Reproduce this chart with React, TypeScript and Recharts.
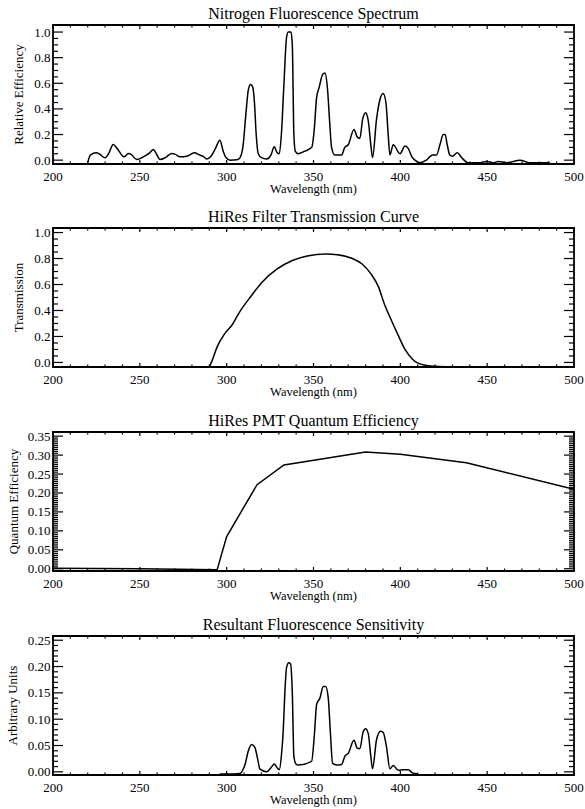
import { Line, LineChart, ReferenceArea, XAxis, YAxis } from 'recharts'

// wavelength (nm), relative efficiency
const fluorescence: [number, number][] = [
  [220, -0.02], [221.5, 0.04], [225, 0.057], [227, 0.045], [230, 0.018],
  [232, 0.05], [234.7, 0.122], [237, 0.09], [240.9, 0.026], [243.4, 0.052],
  [245, 0.045], [248.2, 0.005], [253, 0.034], [255.5, 0.055], [257.8, 0.083],
  [259.5, 0.05], [261.6, 0.005], [264.5, 0.018], [268.3, 0.052], [270.5, 0.045],
  [273.1, 0.026], [277, 0.031], [281.4, 0.057], [284.5, 0.04], [286.5, 0.03],
  [288.5, 0.01], [291, 0.03], [293.5, 0.09], [296.1, 0.156], [298, 0.07],
  [299.6, 0.02], [302, 0.0], [306, 0.003], [307.7, 0.02], [309.5, 0.12],
  [311, 0.35], [312.5, 0.55], [313.8, 0.59], [315, 0.57], [316, 0.45],
  [317, 0.2], [318.2, 0.05], [320, 0.02], [323, 0.01], [325.5, 0.04],
  [327.4, 0.105], [329, 0.06], [330.3, 0.05], [331.5, 0.2], [333, 0.6],
  [334.5, 0.96], [335.5, 1.0], [337, 1.0], [337.8, 0.9], [338.7, 0.2],
  [339.5, 0.07], [341, 0.05], [345, 0.07], [349, 0.1], [350.5, 0.25],
  [351.8, 0.49], [353.3, 0.57], [355.3, 0.67], [356.6, 0.68], [358.1, 0.55],
  [359.3, 0.3], [360.4, 0.1], [362.3, 0.04], [366.2, 0.04], [368, 0.1],
  [370, 0.12], [373.3, 0.24], [375.2, 0.18], [376.7, 0.17], [378.3, 0.32],
  [380, 0.37], [381.5, 0.31], [383, 0.12], [384, 0.02], [386.3, 0.32],
  [388.2, 0.47], [390.1, 0.52], [391.7, 0.45], [393, 0.2], [394, 0.04],
  [395.9, 0.12], [399.8, 0.05], [402.7, 0.11], [404.6, 0.09], [406.5, 0.03],
  [408.4, 0.0], [411.3, -0.02], [415, 0.0], [418.5, 0.04], [420.8, 0.04],
  [423, 0.13], [424.7, 0.2], [425.8, 0.2], [427, 0.12], [428.5, 0.04],
  [430, 0.03], [432.8, 0.057], [435.3, 0.02], [439.1, -0.02], [445.8, -0.02],
  [449.7, -0.01], [453.5, -0.02], [456.4, -0.01], [461.2, -0.02], [468.9, 0.0],
  [474.6, -0.02], [484.2, -0.02], [486, -0.015],
]

// wavelength (nm), filter transmission
const transmission: [number, number][] = [
  [290, -0.035], [291.5, 0.01], [294.5, 0.12], [298.8, 0.22], [303.2, 0.29],
  [307.5, 0.39], [314, 0.51], [320.5, 0.62], [329.1, 0.72], [337.8, 0.785],
  [346.4, 0.82], [357.2, 0.835], [363.7, 0.83], [372.4, 0.8], [377.8, 0.76],
  [383.2, 0.68], [387.5, 0.58], [390.8, 0.45], [394, 0.35], [398.4, 0.22],
  [402.7, 0.1], [407, 0.025], [413.5, -0.02], [422, -0.032], [433, -0.035],
]

// wavelength (nm), PMT quantum efficiency
const quantumEff: [number, number][] = [
  [200, 0.001], [250, 0.0], [294.5, -0.003], [300, 0.085], [317.5, 0.222],
  [333, 0.274], [380, 0.308], [400, 0.302], [438, 0.28], [500, 0.21],
]

// wavelength (nm), resulting sensitivity
const sensitivity: [number, number][] = [
  [296, -0.004], [300, -0.004], [307.7, -0.003], [309.5, 0.005], [310.6, 0.014],
  [312.5, 0.04], [314.4, 0.052], [316.3, 0.046], [317.8, 0.025], [319.2, 0.005],
  [323, 0.0], [325.5, 0.008], [327.4, 0.015], [329, 0.008], [330.3, 0.004],
  [331.5, 0.03], [332.6, 0.08], [333.5, 0.15], [334.5, 0.198], [335.8, 0.207],
  [336.8, 0.205], [337.8, 0.15], [338.7, 0.03], [339.9, 0.015], [341.2, 0.013],
  [348.9, 0.02], [350.5, 0.07], [351.8, 0.128], [353.7, 0.14], [355.6, 0.162],
  [357, 0.162], [358.5, 0.14], [359.8, 0.07], [361, 0.016], [363.3, 0.013],
  [366.2, 0.014], [368.1, 0.03], [370, 0.035], [373.3, 0.06], [375.2, 0.045],
  [376.7, 0.044], [378.6, 0.076], [380, 0.082], [381.5, 0.073], [383, 0.03],
  [384, 0.006], [386.3, 0.061], [388.6, 0.077], [390.1, 0.075], [392, 0.048],
  [394, 0.006], [395.9, 0.012], [398.8, 0.003], [401.6, 0.004], [404.6, 0.004],
  [407, -0.002], [410, -0.004],
]

const xMajor = [200, 250, 300, 350, 400, 450, 500]
const yMajorFrac = [0, 0.2, 0.4, 0.6, 0.8, 1.0]
const yMajorQE = [0, 0.05, 0.1, 0.15, 0.2, 0.25, 0.3, 0.35]
const yMajorSens = [0, 0.05, 0.1, 0.15, 0.2, 0.25]

const W = 585
const H = 200
const M = { top: 25, right: 11, left: 0, bottom: 0 }
const Y_W = 53
const X_H = 36
const PLOT_W = W - M.left - M.right - Y_W
const PLOT_H = H - M.top - M.bottom - X_H
const FONT = '"Liberation Serif", "Times New Roman", serif'
const txt = { fontFamily: FONT, fill: '#000' }

function steps(a: number, b: number, step: number) {
  const n = Math.round((b - a) / step)
  return Array.from({ length: n + 1 }, (_, i) => +(a + i * step).toFixed(4))
}

const isIn = (list: number[], v: number) => list.some((m) => Math.abs(m - v) < 1e-6)

function XTick(props: any) {
  const { x, y, payload } = props
  const v = payload.value
  const major = isIn(xMajor, v)
  const len = major ? 4 : 2.5
  return (
    <g>
      <line x1={x} x2={x} y1={y} y2={y - len} stroke="#000" strokeWidth={1.2} />
      <line x1={x} x2={x} y1={y - PLOT_H} y2={y - PLOT_H + len} stroke="#000" strokeWidth={1.2} />
      {major && (
        <text x={x} y={y + 12} textAnchor="middle" dominantBaseline="central" style={{ ...txt, fontSize: 13 }}>
          {v}
        </text>
      )}
    </g>
  )
}

function makeYTick(majors: number[], decimals: number) {
  return (props: any) => {
    const { x, y, payload } = props
    const v = payload.value
    const major = isIn(majors, v)
    const len = major ? 10 : 5
    return (
      <g>
        <line x1={x} x2={x + len} y1={y} y2={y} stroke="#000" strokeWidth={1.2} />
        <line x1={x + PLOT_W} x2={x + PLOT_W - len} y1={y} y2={y} stroke="#000" strokeWidth={1.2} />
        {major && (
          <text x={x - 2.5} y={y} textAnchor="end" dominantBaseline="central" style={{ ...txt, fontSize: 13 }}>
            {v.toFixed(decimals)}
          </text>
        )}
      </g>
    )
  }
}

type PanelProps = {
  top: number
  points: [number, number][]
  title: string
  yLabel: string
  yLabelX: number
  yDomain: [number, number]
  yMajor: number[]
  yMinorStep: number
  decimals: number
  curve: 'monotone' | 'linear'
}

function Panel({ top, points, title, yLabel, yLabelX, yDomain, yMajor, yMinorStep, decimals, curve }: PanelProps) {
  const data = points.map(([nm, v]) => ({ nm, v }))
  const yTicks = steps(0, yMajor[yMajor.length - 1], yMinorStep)
  const cx = M.left + Y_W + PLOT_W / 2
  const cy = M.top + PLOT_H / 2
  return (
    <div style={{ position: 'absolute', top, left: 0 }}>
      <LineChart width={W} height={H} data={data} margin={M}>
        <XAxis
          dataKey="nm"
          type="number"
          domain={[200, 500]}
          ticks={steps(200, 500, 10)}
          interval={0}
          height={X_H}
          axisLine={false}
          tickLine={false}
          tickSize={0}
          tickMargin={0}
          tick={XTick}
          allowDataOverflow
        />
        <YAxis
          type="number"
          domain={yDomain}
          ticks={yTicks}
          interval={0}
          width={Y_W}
          axisLine={false}
          tickLine={false}
          tickSize={0}
          tickMargin={0}
          tick={makeYTick(yMajor, decimals)}
          allowDataOverflow
        />
        <Line
          type={curve}
          dataKey="v"
          stroke="#000"
          strokeWidth={1.5}
          dot={false}
          activeDot={false}
          isAnimationActive={false}
        />
        <ReferenceArea
          x1={200}
          x2={500}
          y1={yDomain[0]}
          y2={yDomain[1]}
          fill="none"
          fillOpacity={0}
          stroke="#000"
          strokeWidth={1.8}
        />
        <text x={cx} y={13.5} textAnchor="middle" dominantBaseline="central" style={{ ...txt, fontSize: 16 }}>
          {title}
        </text>
        <text x={cx} y={M.top + PLOT_H + 25} textAnchor="middle" dominantBaseline="central" style={{ ...txt, fontSize: 12.5 }}>
          Wavelength (nm)
        </text>
        <text
          x={yLabelX}
          y={cy}
          transform={`rotate(-90 ${yLabelX} ${cy})`}
          textAnchor="middle"
          dominantBaseline="central"
          style={{ ...txt, fontSize: 13 }}
        >
          {yLabel}
        </text>
      </LineChart>
    </div>
  )
}

export default function App() {
  return (
    <div style={{ position: 'absolute', top: 0, left: 0, width: W, height: 809, background: '#fff' }}>
      <Panel
        top={0}
        points={fluorescence}
        title="Nitrogen Fluorescence Spectrum"
        yLabel="Relative Efficiency"
        yLabelX={18}
        yDomain={[-0.03, 1.055]}
        yMajor={yMajorFrac}
        yMinorStep={0.05}
        decimals={1}
        curve="monotone"
      />
      <Panel
        top={203}
        points={transmission}
        title="HiRes Filter Transmission Curve"
        yLabel="Transmission"
        yLabelX={18}
        yDomain={[-0.035, 1.035]}
        yMajor={yMajorFrac}
        yMinorStep={0.05}
        decimals={1}
        curve="monotone"
      />
      <Panel
        top={407}
        points={quantumEff}
        title="HiRes PMT Quantum Efficiency"
        yLabel="Quantum Efficiency"
        yLabelX={13}
        yDomain={[-0.006, 0.361]}
        yMajor={yMajorQE}
        yMinorStep={0.005}
        decimals={2}
        curve="linear"
      />
      <Panel
        top={611}
        points={sensitivity}
        title="Resultant Fluorescence Sensitivity"
        yLabel="Arbitrary Units"
        yLabelX={12.5}
        yDomain={[-0.006, 0.258]}
        yMajor={yMajorSens}
        yMinorStep={0.01}
        decimals={2}
        curve="monotone"
      />
    </div>
  )
}
